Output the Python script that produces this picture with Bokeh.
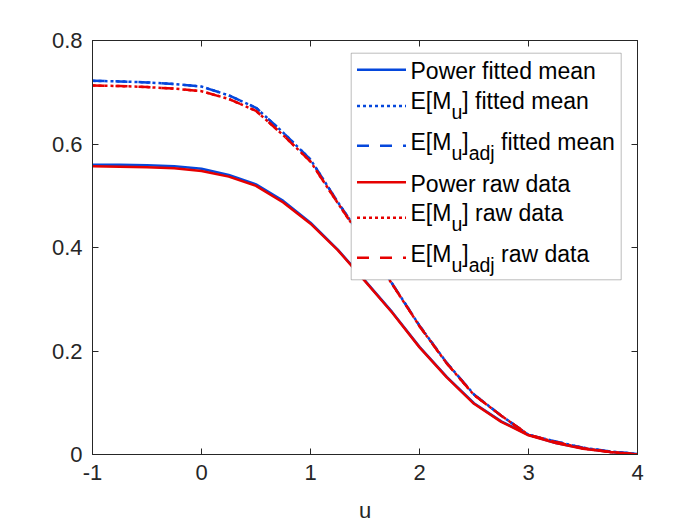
from bokeh.plotting import figure
from bokeh.models import (Range1d, FixedTicker, LinearAxis, CustomJSTickFormatter,
                          BoxAnnotation, Arrow, Label)
from bokeh.embed import file_html
from bokeh.resources import INLINE

# ---------------- data ----------------
u = [-1.0, -0.75, -0.5, -0.25, 0.0, 0.25, 0.5, 0.75, 1.0, 1.25, 1.5, 1.75,
     2.0, 2.25, 2.5, 2.75, 3.0, 3.25, 3.5, 3.75, 4.0]

power_fit = [0.560, 0.560, 0.559, 0.557, 0.552, 0.540, 0.522, 0.490, 0.448, 0.396, 0.336,
             0.275, 0.208, 0.150, 0.099, 0.064, 0.038, 0.022, 0.012, 0.005, 0.001]
emu_fit = [0.722, 0.721, 0.719, 0.716, 0.711, 0.694, 0.670, 0.622, 0.570, 0.488, 0.410,
           0.330, 0.249, 0.177, 0.116, 0.075, 0.038, 0.025, 0.013, 0.006, 0.001]
emu_adj_fit = [0.722, 0.721, 0.719, 0.716, 0.711, 0.694, 0.670, 0.622, 0.570, 0.488, 0.410,
               0.330, 0.249, 0.177, 0.116, 0.075, 0.038, 0.025, 0.013, 0.006, 0.001]
power_raw = [0.557, 0.556, 0.555, 0.553, 0.548, 0.537, 0.519, 0.487, 0.446, 0.395, 0.335,
             0.274, 0.207, 0.149, 0.098, 0.063, 0.037, 0.022, 0.011, 0.005, 0.000]
emu_raw = [0.713, 0.712, 0.710, 0.707, 0.702, 0.687, 0.664, 0.617, 0.566, 0.486, 0.408,
           0.329, 0.248, 0.176, 0.115, 0.075, 0.038, 0.024, 0.012, 0.005, 0.000]
emu_adj_raw = [0.713, 0.712, 0.710, 0.707, 0.702, 0.687, 0.664, 0.617, 0.566, 0.486, 0.408,
               0.329, 0.248, 0.176, 0.115, 0.075, 0.038, 0.024, 0.012, 0.005, 0.000]

x_ticks = [-1, 0, 1, 2, 3, 4]
y_ticks = [0, 0.2, 0.4, 0.6, 0.8]
x_label = "u"

BLUE = "#0547dc"
RED = "#e60000"
AX = "#262626"
FONT = "Liberation Sans"
LW = 2.5
DOT = "3 3"
DASH = "12 11"

series = [
    (power_fit, BLUE, "solid"),
    (emu_fit, BLUE, DOT),
    (emu_adj_fit, BLUE, DASH),
    (power_raw, RED, "solid"),
    (emu_raw, RED, DOT),
    (emu_adj_raw, RED, DASH),
]

# ---------------- figure ----------------
p = figure(width=700, height=525, output_backend="svg", toolbar_location=None,
           x_range=Range1d(-1, 4), y_range=Range1d(0, 0.8),
           min_border_left=92, min_border_right=63, min_border_top=40, min_border_bottom=71)
p.background_fill_color = "white"
p.border_fill_color = "white"
p.outline_line_color = AX
p.outline_line_width = 1
p.xgrid.visible = False
p.ygrid.visible = False

fmt = CustomJSTickFormatter(code="return tick.toString();")
blank = CustomJSTickFormatter(code="return '';")

def style_axis(ax, ticks, formatter, labelled):
    ax.ticker = FixedTicker(ticks=ticks)
    ax.formatter = formatter
    ax.axis_line_color = AX
    ax.axis_line_width = 1
    ax.major_tick_line_color = AX
    ax.major_tick_line_width = 1
    ax.major_tick_in = 6
    ax.major_tick_out = 0
    ax.minor_tick_line_color = None
    ax.major_label_text_font = FONT
    ax.major_label_text_font_size = "22px" if labelled else "1px"
    ax.major_label_text_color = AX
    ax.major_label_standoff = 10 if labelled else 0

style_axis(p.xaxis[0], x_ticks, fmt, True)
style_axis(p.yaxis[0], y_ticks, fmt, True)
p.xaxis[0].axis_label = x_label
p.xaxis[0].axis_label_text_font = FONT
p.xaxis[0].axis_label_text_font_size = "22px"
p.xaxis[0].axis_label_text_font_style = "normal"
p.xaxis[0].axis_label_text_color = AX
p.xaxis[0].axis_label_standoff = 15

top_ax = LinearAxis()
right_ax = LinearAxis()
style_axis(top_ax, x_ticks, blank, False)
style_axis(right_ax, y_ticks, blank, False)
p.add_layout(top_ax, "above")
p.add_layout(right_ax, "right")

for ys, col, dash in series:
    p.line(u, ys, line_color=col, line_width=LW, line_dash=dash, line_cap="butt")

# ---------------- legend (drawn by hand for sub-scripts) ----------------
# reference pixel geometry of the plot frame (page pixels)
FL, FR, FT, FB = 92.0, 637.0, 40.0, 454.0

def px2u(px):
    return -1 + (px - FL) * 5.0 / (FR - FL)

def py2v(py):
    return (FB - py) * 0.8 / (FB - FT)

p.add_layout(BoxAnnotation(left=px2u(350.7), right=px2u(620.7), top=py2v(52.7), bottom=py2v(279.3),
                           fill_color="white", fill_alpha=1.0, line_color=AX, line_width=1))

W = {"E": 667, "[": 278, "M": 833, "]": 278, "u": 556, "a": 556, "d": 556, "j": 222, " ": 278,
     "f": 278, "i": 222, "t": 278, "e": 556, "m": 833, "n": 556, "r": 333, "w": 722, "P": 667, "o": 556}

def text_w(s, size):
    return sum(W.get(c, 556) for c in s) * size / 1000.0

MAIN = 23.0
SUB = 19.5
SUB_DROP = 10.5
TEXT_SHIFT = -7.5

rows = [
    (69.2, 78.3, BLUE, "solid", [("Power fitted mean", False)]),
    (105.5, 108.3, BLUE, DOT, [("E[M", False), ("u", True), ("] fitted mean", False)]),
    (145.2, 149.0, BLUE, DASH, [("E[M", False), ("u", True), ("]", False), ("adj", True), (" fitted mean", False)]),
    (181.7, 190.8, RED, "solid", [("Power raw data", False)]),
    (217.3, 220.1, RED, DOT, [("E[M", False), ("u", True), ("] raw data", False)]),
    (257.3, 261.1, RED, DASH, [("E[M", False), ("u", True), ("]", False), ("adj", True), (" raw data", False)]),
]

for ly, base, col, dash, segs in rows:
    p.add_layout(Arrow(end=None, x_start=px2u(356.5), y_start=py2v(ly), x_end=px2u(405.5), y_end=py2v(ly),
                       line_color=col, line_width=LW, line_dash=dash, line_cap="butt"))
    x = 410.0
    for s, sub in segs:
        size = SUB if sub else MAIN
        yb = base + TEXT_SHIFT + (SUB_DROP if sub else 0.0)
        shown = s.lstrip(" ")
        xo = x + text_w(s[:len(s) - len(shown)], size)
        p.add_layout(Label(x=px2u(xo), y=py2v(yb), text=shown, text_font=FONT,
                           text_font_size=f"{size}px", text_color="black",
                           text_align="left", text_baseline="alphabetic"))
        x += text_w(s, size)

open("out.html", "w").write(file_html(p, INLINE))
